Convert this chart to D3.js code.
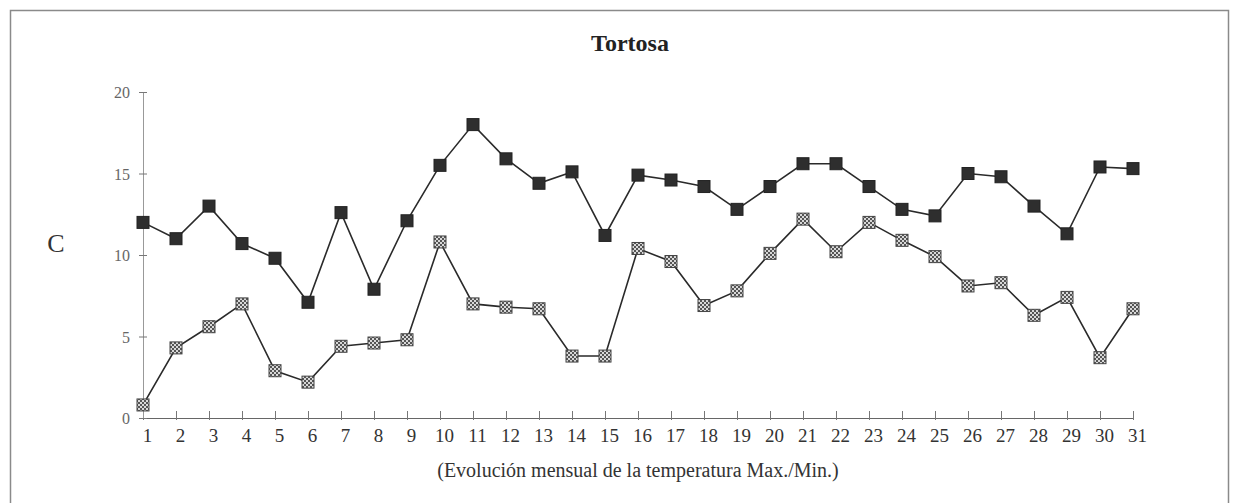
<!DOCTYPE html>
<html>
<head>
<meta charset="utf-8">
<script src="https://cdn.jsdelivr.net/npm/d3@7"></script>
<style>
  body { margin: 0; background: #fff; }
</style>
</head>
<body>
<svg id="chart" width="1237" height="503"></svg>
<script>
// days of the month
var days = d3.range(1, 32);
// max / min temperature (C)
var tempMax = [12.0, 11.0, 13.0, 10.7, 9.8, 7.1, 12.6, 7.9, 12.1, 15.5,
               18.0, 15.9, 14.4, 15.1, 11.2, 14.9, 14.6, 14.2, 12.8, 14.2,
               15.6, 15.6, 14.2, 12.8, 12.4, 15.0, 14.8, 13.0, 11.3, 15.4, 15.3];
var tempMin = [0.8, 4.3, 5.6, 7.0, 2.9, 2.2, 4.4, 4.6, 4.8, 10.8,
               7.0, 6.8, 6.7, 3.8, 3.8, 10.4, 9.6, 6.9, 7.8, 10.1,
               12.2, 10.2, 12.0, 10.9, 9.9, 8.1, 8.3, 6.3, 7.4, 3.7, 6.7];
var yTicks = [0, 5, 10, 15, 20];

var serif = "'Liberation Serif', 'DejaVu Serif', serif";
var svg = d3.select("#chart");
var padding = {left: 143, right: 104, top: 92, bottom: 85};
var W = 1237, H = 503;

// frame
svg.append("rect")
    .attr("x", 10.5).attr("y", 10.5)
    .attr("width", 1218).attr("height", 500)
    .attr("fill", "none").attr("stroke", "#8a8a8a").attr("stroke-width", 1.5);

var x = d3.scaleLinear().domain([1, 31]).range([padding.left, W - padding.right]);
var y = d3.scaleLinear().domain([0, 20]).range([H - padding.bottom, padding.top]);

// x axis
var xg = svg.append("g")
    .attr("transform", "translate(0," + y(0) + ")")
    .call(d3.axisBottom(x).tickValues(days).tickSize(0).tickFormat(""));
xg.select(".domain").attr("stroke", "#666");
xg.selectAll(".tick").append("line")
    .attr("y1", -7).attr("y2", 2).attr("stroke", "#777");
xg.selectAll(".tick").append("text")
    .attr("x", 4).attr("y", 24)
    .style("font-family", serif)
    .attr("fill", "#333").attr("font-size", 19)
    .attr("text-anchor", "middle")
    .text(function(d){ return d; });

// y axis
var yg = svg.append("g")
    .attr("transform", "translate(" + padding.left + ",0)")
    .call(d3.axisLeft(y).tickValues(yTicks).tickSize(0).tickFormat(""));
yg.select(".domain").attr("stroke", "#999");
yg.selectAll(".tick").append("line")
    .attr("x1", -4).attr("x2", 4).attr("stroke", "#777");
yg.selectAll(".tick").append("text")
    .attr("x", -13).attr("dy", "0.35em")
    .style("font-family", serif)
    .attr("fill", "#666").attr("font-size", 16)
    .attr("text-anchor", "end")
    .text(function(d){ return d; });

// title and labels
svg.append("text").attr("x", 630).attr("y", 51)
    .style("font-family", serif)
    .attr("text-anchor", "middle").attr("font-size", 24).attr("font-weight", "bold")
    .attr("fill", "#222").text("Tortosa");
svg.append("text").attr("x", 56).attr("y", 252)
    .style("font-family", serif)
    .attr("text-anchor", "middle").attr("font-size", 26)
    .attr("fill", "#333").text("C");
svg.append("text").attr("x", 638).attr("y", 477)
    .style("font-family", serif)
    .attr("text-anchor", "middle").attr("font-size", 20)
    .attr("fill", "#333").text("(Evolución mensual de la temperatura Max./Min.)");

// hatched pattern for min markers
var pat = svg.append("defs").append("pattern")
    .attr("id", "hatch").attr("patternUnits", "userSpaceOnUse")
    .attr("width", 4).attr("height", 4);
pat.append("rect").attr("width", 4).attr("height", 4).attr("fill", "#d8d8d8");
pat.append("rect").attr("width", 2).attr("height", 2).attr("fill", "#555");
pat.append("rect").attr("x", 2).attr("y", 2).attr("width", 2).attr("height", 2).attr("fill", "#555");

var line = d3.line()
    .x(function(d, i){ return x(days[i]); })
    .y(function(d){ return y(d); });

function drawSeries(vals, fill, stroke) {
    svg.append("path").datum(vals)
        .attr("d", line).attr("fill", "none")
        .attr("stroke", "#2a2a2a").attr("stroke-width", 1.6);
    svg.append("g").selectAll("rect")
        .data(vals).enter().append("rect")
        .attr("x", function(d, i){ return x(days[i]) - 6; })
        .attr("y", function(d){ return y(d) - 6; })
        .attr("width", 12).attr("height", 12)
        .attr("fill", fill).attr("stroke", stroke).attr("stroke-width", 1);
}
drawSeries(tempMax, "#2e2e2e", "#222");
drawSeries(tempMin, "url(#hatch)", "#444");
</script>
</body>
</html>
